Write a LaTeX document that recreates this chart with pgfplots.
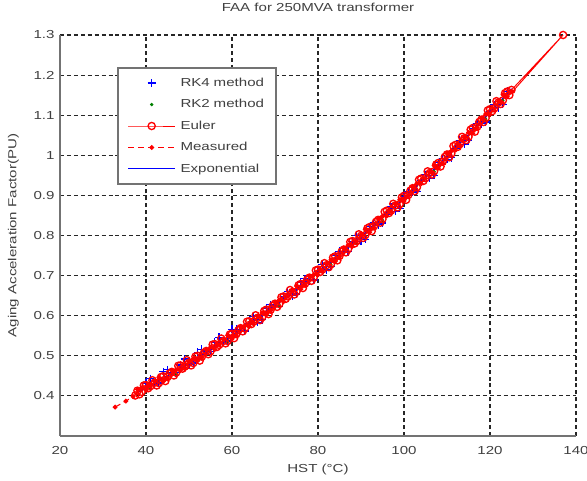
\documentclass[border=0pt]{standalone}
\usepackage{fontspec}
\setmainfont{Liberation Sans}[FakeStretch=1.3]
\usepackage{pgfplots}
\pgfplotsset{compat=1.18}
\definecolor{txtgray}{gray}{0.25}
\definecolor{axgray}{gray}{0.45}
\definecolor{mblue}{rgb}{0,0,1}
\definecolor{mred}{rgb}{1,0,0}
\definecolor{mgreen}{rgb}{0,0.5,0}
\pgfplotsset{
  wideleg/.style={legend image code/.code={%
    \draw[mark repeat=2,mark phase=2,##1] plot coordinates {(0pt,0pt) (17.5pt,0pt) (35pt,0pt)};}},
  rkfour/.style={only marks, mark=+, color=mblue, mark size=3pt, line width=0.9pt},
  rktwo/.style={only marks, mark=*, color=mgreen, mark size=1.1pt, line width=0.4pt},
  euler/.style={color=mred, line width=0.7pt, mark=o, mark size=2.7pt, mark options={solid, draw=mred, line width=1pt}},
  meas/.style={color=mred, draw=mred, line width=0.8pt, dash pattern=on 4.5pt off 3pt, mark=*, mark size=1.4pt, mark options={solid, draw=mred, fill=mred}},
  expo/.style={color=mblue, line width=0.7pt, no markers},
}
\begin{document}
\fontsize{8.7}{10.4}\selectfont
\begin{tikzpicture}
\useasboundingbox (-45pt,-33.75pt) rectangle (395.25pt,327pt);
\begin{axis}[
  at={(0,0)}, anchor=south west,
  scale only axis, width=387pt, height=300.75pt,
  xmin=20, xmax=140, ymin=0.3, ymax=1.3,
  xtick={20,40,60,80,100,120,140},
  ytick={0.4,0.5,0.6,0.7,0.8,0.9,1,1.1,1.2,1.3},
  axis lines*=left,
  axis line style={draw=axgray, line width=1.4pt},
  grid=major,
  major grid style={draw=black!85, line width=0.8pt, dash pattern=on 3pt off 2.2pt},
  major tick length=0pt,
  /pgf/number format/assume math mode=true,
  tick label style={text=txtgray, font=\fontsize{8.7}{10.4}\selectfont},
  xticklabel style={yshift=-5pt},
  yticklabel style={xshift=-1pt},
  title={FAA for 250MVA transformer},
  title style={at={(axis description cs:0.5,1.0499)}, anchor=center, text=txtgray},
  xlabel={HST (°C)},
  xlabel style={at={(axis description cs:0.5,-0.0831)}, anchor=center, text=txtgray},
  ylabel={Aging Acceleration Factor(PU)},
  ylabel style={at={(axis description cs:-0.0904,0.5)}, anchor=center, text=txtgray},
  legend cell align=left,
  legend style={at={(axis description cs:0.1105,0.92)}, anchor=north west,
    draw=axgray, line width=1.2pt, fill=white, inner xsep=7.5pt, inner ysep=7.3pt,
    row sep=7.9pt, column sep=3.75pt, font=\fontsize{8.7}{10.4}\selectfont, text=txtgray,
    nodes={inner sep=0pt, text height=6.4pt, text depth=1.8pt, text width=64pt}},
]
% RK4
\addplot[rkfour, wideleg] coordinates {
 (40,0.432) (42,0.430) (44,0.460) (46,0.458) (48,0.477) (50,0.478) (52,0.509) (54,0.512)
 (56,0.534) (58,0.534) (60,0.566) (62,0.561) (64,0.581) (66,0.584) (68,0.618) (70,0.624)
 (72,0.647) (74,0.650) (76,0.684) (78,0.687) (80,0.710) (82,0.715) (84,0.751) (86,0.759)
 (88,0.785) (90,0.786) (92,0.822) (94,0.827) (96,0.853) (98,0.860) (100,0.898) (102,0.908)
 (104,0.937) (106,0.943) (108,0.982) (110,0.990) (112,1.017) (114,1.027) (116,1.067) (118,1.079)
 (120,1.110) (122,1.119) (124,1.160)
 (41,0.443) (43,0.432) (45,0.465) (47,0.458) (49,0.492) (51,0.482) (53,0.516) (55,0.511)
 (57,0.546) (59,0.537) (61,0.566) (63,0.562) (65,0.598) (67,0.590) (69,0.627) (71,0.623)
 (73,0.661) (75,0.654) (77,0.692) (79,0.689) (81,0.728) (83,0.722) (85,0.761) (87,0.760)
 (89,0.799) (91,0.791) (93,0.831) (95,0.831) (97,0.871) (99,0.868) (101,0.909) (103,0.910)
 (105,0.952) (107,0.950) (109,0.992) (111,0.994) (113,1.037) (115,1.036) (117,1.079) (119,1.083)
 (121,1.126) (123,1.127)
};
\addlegendentry{RK4 method}
% RK2
\addplot[rktwo, wideleg] coordinates {
 (41,0.419) (47,0.455) (53,0.494) (59,0.536) (65,0.580) (71,0.626) (77,0.676) (83,0.727)
 (89,0.781) (95,0.838) (101,0.897) (107,0.959) (113,1.023) (119,1.090) (123,1.136)
};
\addlegendentry{RK2 method}
% Euler
\addplot[euler, wideleg] coordinates {
 (37.5,0.401) (38,0.413) (39,0.410) (40,0.427) (41,0.424) (42,0.433) (43,0.432) (44,0.449) (45,0.447)
 (46,0.460) (47,0.458) (48,0.476) (49,0.473) (50,0.483) (51,0.482) (52,0.500) (53,0.498)
 (54,0.512) (55,0.511) (56,0.529) (57,0.527) (58,0.537) (59,0.537) (60,0.555) (61,0.554)
 (62,0.569) (63,0.568) (64,0.586) (65,0.585) (66,0.595) (67,0.596) (68,0.615) (69,0.615)
 (70,0.630) (71,0.629) (72,0.648) (73,0.648) (74,0.659) (75,0.660) (76,0.679) (77,0.680)
 (78,0.695) (79,0.695) (80,0.715) (81,0.715) (82,0.726) (83,0.728) (84,0.748) (85,0.749)
 (86,0.765) (87,0.766) (88,0.786) (89,0.786) (90,0.799) (91,0.801) (92,0.821) (93,0.823)
 (94,0.839) (95,0.841) (96,0.862) (97,0.862) (98,0.875) (99,0.878) (100,0.899) (101,0.901)
 (102,0.918) (103,0.920) (104,0.942) (105,0.943) (106,0.956) (107,0.960) (108,0.981) (109,0.984)
 (110,1.002) (111,1.004) (112,1.026) (113,1.028) (114,1.042) (115,1.046) (116,1.068) (117,1.071)
 (118,1.089) (119,1.093) (120,1.115) (121,1.117) (122,1.132) (123,1.137) (124,1.159) (125,1.163)
 (137,1.300)
 (124.5,1.150) (123.5,1.155) (122.5,1.128) (121.5,1.135) (120.5,1.110) (119.5,1.112)
 (118.5,1.083) (117.5,1.083) (116.5,1.059) (115.5,1.064) (114.5,1.038) (113.5,1.046)
 (112.5,1.021) (111.5,1.023) (110.5,0.995) (109.5,0.996) (108.5,0.972) (107.5,0.977)
 (106.5,0.952) (105.5,0.960) (104.5,0.936) (103.5,0.939) (102.5,0.911) (101.5,0.912)
 (100.5,0.889) (99.5,0.895) (98.5,0.870) (97.5,0.879) (96.5,0.856) (95.5,0.859)
 (94.5,0.832) (93.5,0.834) (92.5,0.811) (91.5,0.818) (90.5,0.794) (89.5,0.803)
 (88.5,0.780) (87.5,0.784) (86.5,0.758) (85.5,0.760) (84.5,0.738) (83.5,0.745)
 (82.5,0.721) (81.5,0.731) (80.5,0.709) (79.5,0.713) (78.5,0.687) (77.5,0.690)
 (76.5,0.669) (75.5,0.676) (74.5,0.653) (73.5,0.664) (72.5,0.642) (71.5,0.646)
 (70.5,0.622) (69.5,0.625) (68.5,0.604) (67.5,0.612) (66.5,0.589) (65.5,0.601)
 (64.5,0.579) (63.5,0.585) (62.5,0.561) (61.5,0.564) (60.5,0.544) (59.5,0.553)
 (58.5,0.531) (57.5,0.543) (56.5,0.522) (55.5,0.528) (54.5,0.504) (53.5,0.508)
 (52.5,0.488) (51.5,0.498) (50.5,0.476) (49.5,0.489) (48.5,0.468) (47.5,0.475)
 (46.5,0.451) (45.5,0.456) (44.5,0.437) (43.5,0.447) (42.5,0.426) (41.5,0.439)
 (40.5,0.419) (39.5,0.426) (38.5,0.404)
};
\addlegendentry{Euler}
% Measured
\addplot[meas, wideleg] coordinates {
 (32.8,0.372) (35.3,0.387) (37,0.398) (39,0.420) (41,0.424) (43,0.446) (45,0.443) (47,0.465)
 (49,0.471) (51,0.493) (53,0.496) (55,0.521) (57,0.527) (59,0.551) (61,0.550) (63,0.575)
 (65,0.583) (67,0.607) (69,0.613) (71,0.639) (73,0.648) (75,0.674) (77,0.676) (79,0.702)
 (81,0.713) (83,0.739) (85,0.747) (87,0.776) (89,0.786) (91,0.815) (93,0.819) (95,0.848)
 (97,0.860) (99,0.889) (101,0.899) (103,0.930) (105,0.943) (107,0.974) (109,0.980) (111,1.011)
 (113,1.026) (115,1.057) (117,1.069) (119,1.103) (121,1.117) (123,1.151) (125,1.159)
 (124,1.146) (122,1.135) (120,1.102) (118,1.092) (116,1.055) (114,1.045) (112,1.013) (110,1.005)
 (108,0.968) (106,0.959) (104,0.929) (102,0.921) (100,0.886) (98,0.878) (96,0.849) (94,0.842)
 (92,0.808) (90,0.802) (88,0.773) (86,0.768) (84,0.735) (82,0.729) (80,0.702) (78,0.698)
 (76,0.666) (74,0.662) (72,0.635) (70,0.633) (68,0.602) (66,0.598) (64,0.573) (62,0.572)
 (60,0.542) (58,0.540) (56,0.516) (54,0.515) (52,0.487) (50,0.486) (48,0.463) (46,0.463)
 (44,0.436) (42,0.436) (40,0.414) (38,0.416)
};
\addlegendentry{Measured}
% Exponential
\addplot[expo, wideleg] coordinates {
 (38,0.409) (42,0.432) (46,0.456) (50,0.482) (54,0.508) (58,0.536) (62,0.565) (66,0.594)
 (70,0.626) (74,0.658) (78,0.691) (82,0.725) (86,0.761) (90,0.798) (94,0.835) (98,0.874)
 (102,0.914) (106,0.955) (110,0.998) (114,1.041) (118,1.085) (122,1.131) (125,1.166)
};
\addlegendentry{Exponential}
\end{axis}
\end{tikzpicture}
\end{document}
